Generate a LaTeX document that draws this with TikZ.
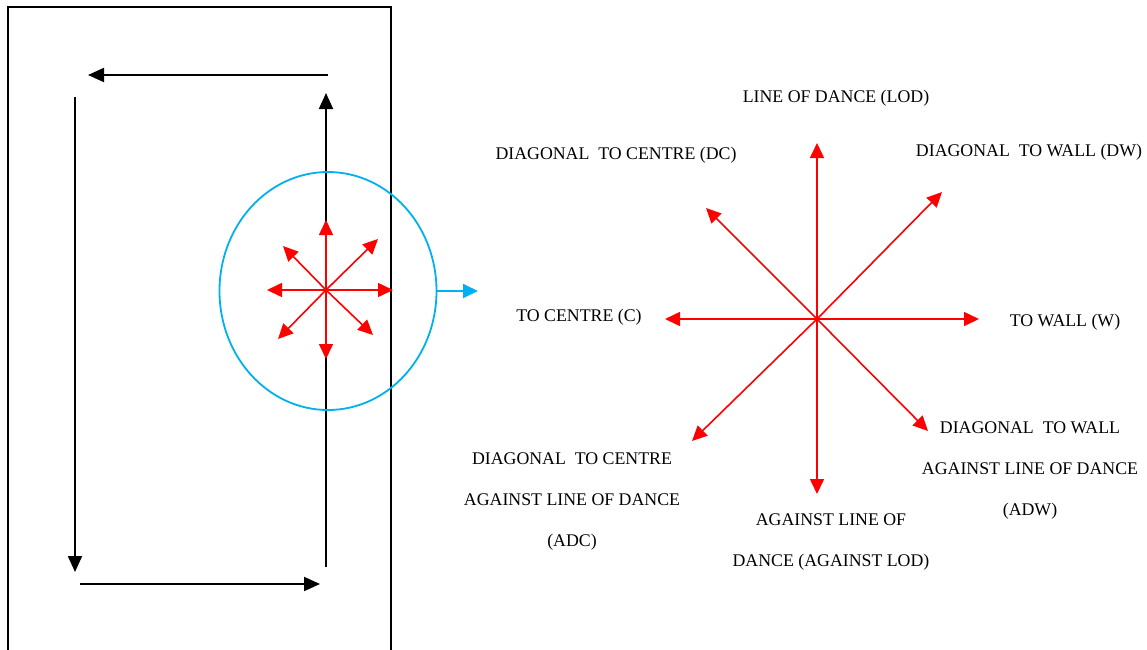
\documentclass[tikz,border=0pt]{standalone}
\usepackage{fontspec}
\setmainfont{Liberation Serif}
\usetikzlibrary{arrows.meta}
\definecolor{lightblue}{RGB}{0,176,240}
\tikzset{
  blk/.style={draw=black, line width=1pt, -{Triangle[length=8pt,width=7pt]}},
  redarr/.style={draw=red, line width=0.8pt, -{Triangle[length=7.5pt,width=7pt]}},
  bluearr/.style={draw=lightblue, line width=0.9pt, -{Triangle[length=7.5pt,width=7pt]}},
  lbl/.style={font=\fontsize{8.9pt}{20.5pt}\selectfont, align=center, inner sep=0pt}
}
\begin{document}
\begin{tikzpicture}[x=0.5pt,y=-0.5pt]
\useasboundingbox (0,0) rectangle (1147,649);
% rink outline
\draw[line width=1pt] (8,652) -- (8,7) -- (391,7) -- (391,652);
% path around the rink
\coordinate (t1) at (328,75);  \coordinate (t2) at (88,75);
\coordinate (l1) at (75,97);   \coordinate (l2) at (75,572);
\coordinate (b1) at (80,584);  \coordinate (b2) at (320,584);
\coordinate (r1) at (326,567); \coordinate (r2) at (326,93);
\draw[blk] (t1) -- (t2);
\draw[blk] (l1) -- (l2);
\draw[blk] (b1) -- (b2);
\draw[blk] (r1) -- (r2);
% zoom circle
\coordinate (cc) at (328,291);
\draw[lightblue, line width=0.9pt] (cc) ellipse [x radius=54.25pt, y radius=59.5pt];
\coordinate (bs) at (437,291); \coordinate (be) at (478,291);
\draw[bluearr] (bs) -- (be);
% small star
\coordinate (s0) at (326,290);
\coordinate (sN) at (326,220);
\coordinate (sS) at (326,359);
\coordinate (sW) at (267,290);
\coordinate (sE) at (393,290);
\coordinate (sNE) at (378,239);
\coordinate (sNW) at (283,246);
\coordinate (sSW) at (278,339);
\coordinate (sSE) at (373,335);
\draw[redarr] (s0) -- (sN);
\draw[redarr] (s0) -- (sS);
\draw[redarr] (s0) -- (sW);
\draw[redarr] (s0) -- (sE);
\draw[redarr] (s0) -- (sNE);
\draw[redarr] (s0) -- (sNW);
\draw[redarr] (s0) -- (sSW);
\draw[redarr] (s0) -- (sSE);
% big star
\coordinate (c0) at (817,319);
\coordinate (cN) at (817,143);
\coordinate (cS) at (817,494);
\coordinate (cW) at (665,319);
\coordinate (cE) at (979,319);
\coordinate (cNE) at (942,192);
\coordinate (cNW) at (706,208);
\coordinate (cSW) at (692,441);
\coordinate (cSE) at (928,431);
\draw[redarr] (c0) -- (cN);
\draw[redarr] (c0) -- (cS);
\draw[redarr] (c0) -- (cW);
\draw[redarr] (c0) -- (cE);
\draw[redarr] (c0) -- (cNE);
\draw[redarr] (c0) -- (cNW);
\draw[redarr] (c0) -- (cSW);
\draw[redarr] (c0) -- (cSE);
% labels
\node[lbl] (lod) at (836,98) {LINE OF DANCE (LOD)};
\node[lbl] (dc) at (616,155) {DIAGONAL\ \ TO CENTRE (DC)};
\node[lbl] (dw) at (1029,152) {DIAGONAL\ \ TO WALL (DW)};
\node[lbl] (c) at (579,317) {TO CENTRE (C)};
\node[lbl] (w) at (1065,322) {TO WALL (W)};
\node[lbl] (adw) at (1030,470) {DIAGONAL\ \ TO WALL\\AGAINST LINE OF DANCE\\(ADW)};
\node[lbl] (adc) at (572,501) {DIAGONAL\ \ TO CENTRE\\AGAINST LINE OF DANCE\\(ADC)};
\node[lbl] (alod) at (831,542) {AGAINST LINE OF\\DANCE (AGAINST LOD)};
\end{tikzpicture}
\end{document}
